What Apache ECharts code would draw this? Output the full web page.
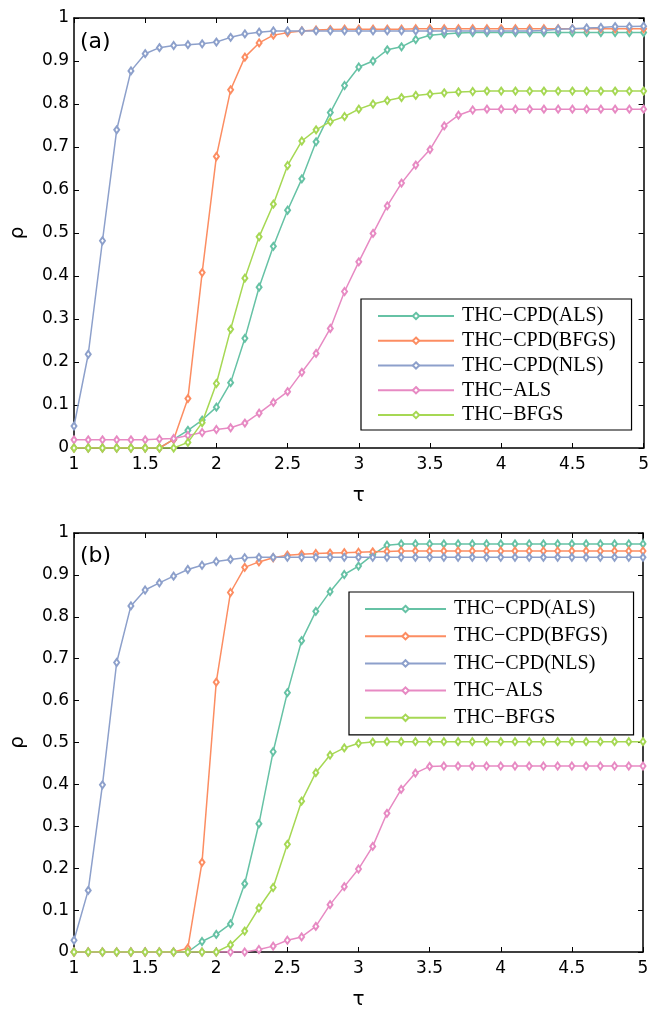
<!DOCTYPE html>
<html>
<head>
<meta charset="utf-8">
<title>THC performance profiles</title>
<script src="https://cdn.jsdelivr.net/npm/echarts@6/dist/echarts.min.js"></script>
<style>
  html, body { margin: 0; padding: 0; background: #fff; }
  #main { width: 652px; height: 1011px; }
</style>
</head>
<body>
<div id="main"></div>
<script>
"use strict";

// tau (x) values shared by both panels
var tau = [1.0, 1.1, 1.2, 1.3, 1.4, 1.5, 1.6, 1.7, 1.8, 1.9,
    2.0, 2.1, 2.2, 2.3, 2.4, 2.5, 2.6, 2.7, 2.8, 2.9,
    3.0, 3.1, 3.2, 3.3, 3.4, 3.5, 3.6, 3.7, 3.8, 3.9,
    4.0, 4.1, 4.2, 4.3, 4.4, 4.5, 4.6, 4.7, 4.8, 4.9, 5.0];

var names = ["THC\u2212CPD(ALS)", "THC\u2212CPD(BFGS)", "THC\u2212CPD(NLS)", "THC\u2212ALS", "THC\u2212BFGS"];
var colors = ["#66c2a5", "#fc8d62", "#8da0cb", "#e78ac3", "#a6d854"];

var xTicks = [1, 1.5, 2, 2.5, 3, 3.5, 4, 4.5, 5];
var yTicks = [0, 0.1, 0.2, 0.3, 0.4, 0.5, 0.6, 0.7, 0.8, 0.9, 1];

// panel (a)
var aCpdAls = [0, 0, 0, 0, 0, 0, 0, 0.020, 0.041, 0.065,
    0.095, 0.152, 0.255, 0.374, 0.469, 0.553, 0.626, 0.712, 0.780, 0.843,
    0.886, 0.900, 0.926, 0.933, 0.950, 0.960, 0.963, 0.965, 0.966, 0.966,
    0.966, 0.966, 0.966, 0.966, 0.966, 0.966, 0.966, 0.966, 0.966, 0.966, 0.966];
var aCpdBfgs = [0, 0, 0, 0, 0, 0, 0, 0.020, 0.115, 0.408,
    0.678, 0.833, 0.909, 0.942, 0.960, 0.966, 0.970, 0.972, 0.973, 0.974,
    0.974, 0.974, 0.974, 0.974, 0.975, 0.975, 0.975, 0.975, 0.975, 0.975,
    0.975, 0.975, 0.975, 0.975, 0.975, 0.975, 0.975, 0.975, 0.975, 0.975, 0.975];
var aCpdNls = [0.051, 0.218, 0.482, 0.740, 0.877, 0.917, 0.931, 0.936, 0.938, 0.940,
    0.944, 0.955, 0.963, 0.967, 0.970, 0.970, 0.970, 0.970, 0.970, 0.970,
    0.970, 0.970, 0.970, 0.970, 0.970, 0.970, 0.970, 0.970, 0.970, 0.970,
    0.970, 0.970, 0.970, 0.971, 0.974, 0.975, 0.977, 0.978, 0.980, 0.980, 0.981];
var aAls = [0.019, 0.019, 0.019, 0.019, 0.019, 0.019, 0.021, 0.022, 0.029, 0.036,
    0.043, 0.047, 0.058, 0.081, 0.106, 0.131, 0.176, 0.220, 0.278, 0.364,
    0.433, 0.499, 0.563, 0.616, 0.658, 0.694, 0.749, 0.774, 0.786, 0.788,
    0.788, 0.788, 0.788, 0.788, 0.788, 0.788, 0.788, 0.788, 0.788, 0.788, 0.788];
var aBfgs = [0, 0, 0, 0, 0, 0, 0, 0, 0.013, 0.059,
    0.150, 0.276, 0.395, 0.491, 0.567, 0.657, 0.714, 0.740, 0.759, 0.771,
    0.788, 0.800, 0.808, 0.815, 0.820, 0.823, 0.826, 0.828, 0.829, 0.830,
    0.830, 0.830, 0.830, 0.830, 0.830, 0.830, 0.830, 0.830, 0.830, 0.830, 0.830];

// panel (b)
var bCpdAls = [0, 0, 0, 0, 0, 0, 0, 0, 0, 0.025,
    0.042, 0.067, 0.163, 0.306, 0.478, 0.619, 0.743, 0.813, 0.860, 0.901,
    0.921, 0.948, 0.971, 0.974, 0.974, 0.974, 0.974, 0.974, 0.974, 0.974,
    0.974, 0.974, 0.974, 0.974, 0.974, 0.974, 0.974, 0.974, 0.974, 0.974, 0.974];
var bCpdBfgs = [0, 0, 0, 0, 0, 0, 0, 0, 0.009, 0.214,
    0.644, 0.858, 0.918, 0.931, 0.941, 0.947, 0.949, 0.951, 0.952, 0.953,
    0.954, 0.955, 0.956, 0.957, 0.957, 0.957, 0.957, 0.957, 0.957, 0.957,
    0.957, 0.957, 0.957, 0.957, 0.957, 0.957, 0.957, 0.957, 0.957, 0.957, 0.957];
var bCpdNls = [0.028, 0.147, 0.399, 0.691, 0.826, 0.864, 0.881, 0.897, 0.913, 0.923,
    0.932, 0.937, 0.941, 0.942, 0.942, 0.942, 0.942, 0.942, 0.942, 0.942,
    0.942, 0.942, 0.942, 0.942, 0.942, 0.942, 0.942, 0.942, 0.942, 0.942,
    0.942, 0.942, 0.942, 0.942, 0.942, 0.942, 0.942, 0.942, 0.942, 0.942, 0.942];
var bAls = [0, 0, 0, 0, 0, 0, 0, 0, 0, 0,
    0, 0, 0, 0.006, 0.014, 0.028, 0.036, 0.061, 0.113, 0.156,
    0.198, 0.252, 0.331, 0.388, 0.427, 0.443, 0.444, 0.444, 0.444, 0.444,
    0.444, 0.444, 0.444, 0.444, 0.444, 0.444, 0.444, 0.444, 0.444, 0.444, 0.444];
var bBfgs = [0, 0, 0, 0, 0, 0, 0, 0, 0, 0,
    0, 0.017, 0.050, 0.105, 0.154, 0.257, 0.360, 0.428, 0.470, 0.487,
    0.498, 0.501, 0.502, 0.502, 0.502, 0.502, 0.502, 0.502, 0.502, 0.502,
    0.502, 0.502, 0.502, 0.502, 0.502, 0.502, 0.502, 0.502, 0.502, 0.502, 0.502];

var panelA = [aCpdAls, aCpdBfgs, aCpdNls, aAls, aBfgs];
var panelB = [bCpdAls, bCpdBfgs, bCpdNls, bAls, bBfgs];

var tickFont = {fontFamily: "DejaVu Sans", fontSize: 17, color: "#000"};
var axisLine = {show: true, onZero: false, lineStyle: {color: "#000", width: 1.5}};
var axisTick = {show: true, inside: true, length: 5, lineStyle: {color: "#000", width: 1}};

function pairs(ys) {
    return tau.map(function (t, i) { return [t, ys[i]]; });
}

function xAxisFor(grid, pos, labels) {
    return {
        type: "value", gridIndex: grid, position: pos, min: 1, max: 5, interval: 0.5,
        axisLine: axisLine, axisTick: axisTick, splitLine: {show: false},
        axisLabel: labels ? Object.assign({margin: 8}, tickFont) : {show: false},
        name: labels ? "\u03c4" : "", nameLocation: "middle", nameGap: 38,
        nameTextStyle: {fontFamily: "DejaVu Sans", fontSize: 20, color: "#000"}
    };
}

function yAxisFor(grid, pos, labels) {
    return {
        type: "value", gridIndex: grid, position: pos, min: 0, max: 1, interval: 0.1,
        axisLine: axisLine, axisTick: axisTick, splitLine: {show: false},
        axisLabel: labels ? Object.assign({margin: 5}, tickFont) : {show: false},
        name: labels ? "\u03c1" : "", nameLocation: "middle", nameGap: 46,
        nameTextStyle: {fontFamily: "DejaVu Sans", fontSize: 20, color: "#000"}
    };
}

function buildSeries(panel, axisIdx) {
    return panel.map(function (ys, k) {
        return {
            name: names[k], type: "line", xAxisIndex: axisIdx, yAxisIndex: axisIdx,
            data: pairs(ys), color: colors[k],
            symbol: "emptyDiamond", symbolSize: [5, 7], showAllSymbol: true,
            lineStyle: {width: 1.5, color: colors[k]},
            itemStyle: {color: colors[k], borderWidth: 1.3},
            animation: false, z: 2 + k
        };
    });
}

function legendFor(left, top, lineLen, gap, padding) {
    return {
        data: names, orient: "vertical", left: left, top: top,
        itemWidth: lineLen, itemHeight: 8, itemGap: gap, padding: padding,
        borderColor: "#000", borderWidth: 1.2, backgroundColor: "#fff",
        selectedMode: false, z: 10,
        textStyle: {fontFamily: "Liberation Serif", fontSize: 20, lineHeight: 20, color: "#000", padding: [0, 0, 0, 3]}
    };
}

var chart = echarts.init(document.getElementById("main"), null, {renderer: "canvas"});

var option = {
    backgroundColor: "#fff",
    animation: false,
    grid: [
        {left: 73, top: 18, width: 571, height: 430},
        {left: 71, top: 533, width: 572, height: 430}
    ],
    xAxis: [xAxisFor(0, "bottom", true), xAxisFor(0, "top", false),
        xAxisFor(1, "bottom", true), xAxisFor(1, "top", false)],
    yAxis: [yAxisFor(0, "left", true), yAxisFor(0, "right", false),
        yAxisFor(1, "left", true), yAxisFor(1, "right", false)],
    legend: [
        legendFor(361, 299, 76, 4.75, [7, 16, 5, 16]),
        legendFor(349, 592, 81, 7.2, [7, 26, 7, 15])
    ],
    graphic: [
        {type: "text", left: 80, top: 31, style: {text: "(a)", font: "22px 'DejaVu Sans'", fill: "#000"}},
        {type: "text", left: 80, top: 545, style: {text: "(b)", font: "22px 'DejaVu Sans'", fill: "#000"}}
    ],
    series: buildSeries(panelA, 0).concat(buildSeries(panelB, 2))
};

chart.setOption(option);
</script>
</body>
</html>
